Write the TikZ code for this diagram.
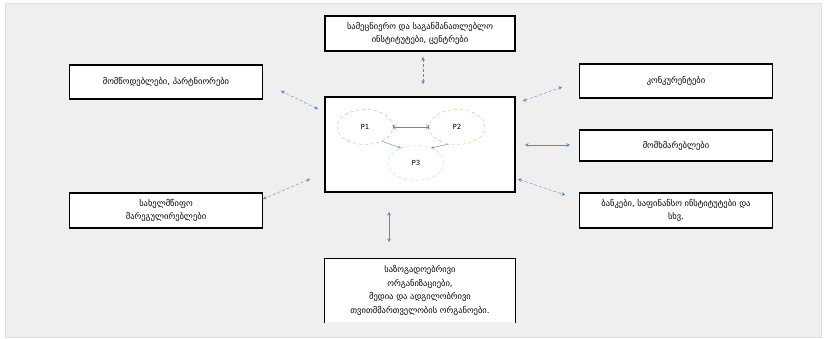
\documentclass[tikz,border=0pt]{standalone}
\usepackage{fontspec}
\setmainfont{DejaVu Sans}
\usetikzlibrary{arrows.meta,shapes.geometric,positioning}

\definecolor{linkblue}{RGB}{92,136,196}
\definecolor{bggray}{RGB}{239,239,239}
\definecolor{procgreen}{RGB}{196,200,120}

\begin{document}
\begin{tikzpicture}
%Environment of the enterprise
	[
	 	 %Styles
       x=1pt, y=1pt,
       font=\fontsize{8.5}{13.5}\selectfont,
       actor_node/.style={rectangle,draw=black,line width=1.1pt,fill=white,
                          minimum width=193pt,minimum height=34pt,align=center,inner sep=2pt},
       core_node/.style={rectangle,draw=black,line width=1.1pt,fill=white,
                         minimum width=190pt,minimum height=95pt},
       proc_node/.style={ellipse,draw=gray!60,dashed,minimum width=56pt,minimum height=35pt,
                         inner sep=0pt,font=\fontsize{7}{8}\selectfont},
       link/.style={<->,>={Stealth[length=3.5pt,width=3.5pt]},draw=linkblue,densely dashed,thin}
    ]

    %Canvas
    \useasboundingbox (0,0) rectangle (824,339);
    \filldraw[fill=bggray,draw=gray!25] (5,2) rectangle (821,336);

    %Node placement
    \node (core) [core_node] at (420,194.5) {};
    \node (p1) [proc_node] at (365,212) {P1};
    \node (p2) [proc_node,draw=procgreen] at (457,212) {P2};
    \node (p3) [proc_node,draw=gray!50!green!40] at (416,176) {P3};

    \node (science) [actor_node,minimum width=190pt,minimum height=35pt] at (420,305.5)
       {სამეცნიერო და საგანმანათლებლო\\ინსტიტუტები, ცენტრები};
    \node (suppliers) [actor_node] at (166,257) {მომწოდებლები, პარტნიორები};
    \node (rivals) [actor_node] at (676,258) {კონკურენტები};
    \node (clients) [actor_node,minimum height=31pt] at (676,193.5) {მომხმარებლები};
    \node (state) [actor_node,minimum height=35pt] at (166,128.5) {სახელმწიფო\\მარეგულირებლები};
    \node (banks) [actor_node,minimum height=35pt] at (676,128.5)
       {ბანკები, საფინანსო ინსტიტუტები და\\სხვ.};
    \node (public) [actor_node,draw=none,minimum width=190pt,minimum height=63pt] at (420,48.5)
       {საზოგადოებრივი\\ორგანიზაციები,\\მედია და ადგილობრივი\\თვითმმართველობის ორგანოები.};
    \draw[line width=1.1pt] (public.south west) -- (public.north west)
       -- (public.north east) -- (public.south east);

    %Connector ends
    \coordinate (c_top) at (423,255);   \coordinate (science_end) at (423,282);
    \coordinate (c_tl) at (318,230);    \coordinate (suppliers_end) at (281,248);
    \coordinate (c_tr) at (523,238);    \coordinate (rivals_end) at (562,252);
    \coordinate (c_r) at (525,194);     \coordinate (clients_end) at (570,194);
    \coordinate (c_br) at (518,160);    \coordinate (banks_end) at (565,144);
    \coordinate (c_bl) at (310,160);    \coordinate (state_end) at (263,140);
    \coordinate (c_b) at (389,127);     \coordinate (public_end) at (389,97);

    %Edges
    \path
       (c_top) edge [link] (science_end)
       (c_tl) edge [link] (suppliers_end)
       (c_tr) edge [link] (rivals_end)
       (c_r) edge [link,solid] (clients_end)
       (c_br) edge [link] (banks_end)
       (c_bl) edge [link] (state_end)
       (c_b) edge [link,solid] (public_end);
    \path
       (p1.east) edge [|<->|,draw=linkblue] (p2.west)
       (p1.-40) edge [->,>={Stealth[length=3pt]},draw=linkblue] (p3.135)
       (p2.-115) edge [->,>={Stealth[length=3pt]},draw=gray] (p3.45);
\end{tikzpicture}
\end{document}
